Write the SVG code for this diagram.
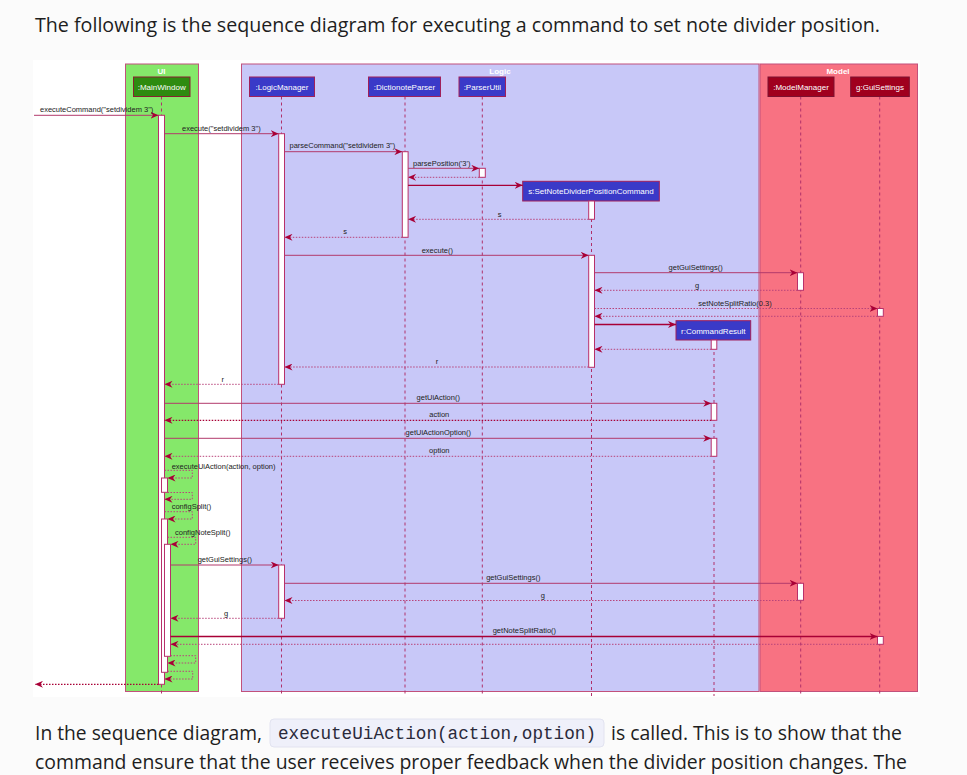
<svg xmlns="http://www.w3.org/2000/svg" width="967" height="775" viewBox="0 0 967 775">
<defs>
<style>
.page{fill:#fbfbfb}
.panel{fill:#ffffff}
.para{font-family:"Open Sans","Noto Sans","Liberation Sans",sans-serif;font-size:20px;fill:#1e1e1e}
.code{font-family:"Liberation Mono","DejaVu Sans Mono",monospace;font-size:17.5px;fill:#2a2a3a}
.grp{stroke:#c2517c;stroke-width:1}
.gt{font-family:"Liberation Sans",Arial,sans-serif;font-size:8px;font-weight:bold;fill:#ffffff;text-anchor:middle}
.pt{font-family:"Liberation Sans",Arial,sans-serif;font-size:8px;fill:#ffffff;text-anchor:middle}
.pui{fill:#2e8b10;stroke:#8a2030;stroke-width:1}
.plo{fill:#3a3ac8;stroke:#a0205a;stroke-width:1}
.pmo{fill:#a0001e;stroke:#7c1030;stroke-width:1}
.life{stroke:#b0306a;stroke-width:1;stroke-dasharray:3,3;fill:none}
.act{fill:#ffffff;stroke:#b8306a;stroke-width:1}
.msg{stroke:#b23a6c;stroke-width:1;fill:none}
.strong{stroke:#a80036;stroke-width:1.3;fill:none}
.ret{stroke:#b8447a;stroke-width:1;stroke-dasharray:1.5,1.5;fill:none}
.rets{stroke:#a80036;stroke-width:1.2;stroke-dasharray:1.5,1.5;fill:none}
.ml{font-family:"Liberation Sans",Arial,sans-serif;font-size:7.5px;fill:#222222}
.mc{text-anchor:middle}
</style>
<marker id="ah" viewBox="0 0 8 7" markerWidth="8" markerHeight="7" refX="8" refY="3.5" orient="auto" markerUnits="userSpaceOnUse">
<path d="M0,0 L8,3.5 L0,7 L2.5,3.5 Z" fill="#a80036"/>
</marker>
</defs>

<rect class="page" x="0" y="0" width="967" height="775"/>
<text class="para" x="35" y="32" textLength="845" lengthAdjust="spacingAndGlyphs">The following is the sequence diagram for executing a command to set note divider position.</text>
<rect class="panel" x="33" y="60" width="887" height="637"/>

<!-- group boxes -->
<g id="group-ui">
<rect class="grp" x="125.5" y="64" width="73" height="627.5" fill="#85e86a"/>
<text class="gt" x="161.5" y="73.5" font-weight="normal">UI</text>
</g>
<g id="group-logic">
<rect class="grp" x="241.5" y="64" width="517.5" height="627.5" fill="#c8c8f8"/>
<text class="gt" x="500" y="73.5">Logic</text>
</g>
<g id="group-model">
<rect class="grp" x="760" y="64" width="157.5" height="627.5" fill="#f87282"/>
<text class="gt" x="838" y="73.5">Model</text>
</g>

<!-- participants with lifelines -->
<g id="mainwindow">
<line class="life" x1="161.5" y1="96.5" x2="161.5" y2="696"/>
<rect class="pui" x="133.5" y="77" width="56.5" height="19.5"/>
<text class="pt" x="161.7" y="89.8">:MainWindow</text>
</g>
<g id="logicmanager">
<line class="life" x1="281.5" y1="96.5" x2="281.5" y2="696" stroke="#a80036"/>
<rect class="plo" x="249.5" y="77" width="65" height="19.5"/>
<text class="pt" x="282" y="89.8">:LogicManager</text>
</g>
<g id="dictionoteparser">
<line class="life" x1="405" y1="96.5" x2="405" y2="696" stroke="#a80036"/>
<rect class="plo" x="368.5" y="77" width="72" height="19.5"/>
<text class="pt" x="404.5" y="89.8">:DictionoteParser</text>
</g>
<g id="parserutil">
<line class="life" x1="482.3" y1="96.5" x2="482.3" y2="696"/>
<rect class="plo" x="459" y="77" width="46.5" height="19.5"/>
<text class="pt" x="482.3" y="89.8">:ParserUtil</text>
</g>
<g id="setnotedividerpositioncommand">
<line class="life" x1="591.5" y1="201" x2="591.5" y2="696"/>
<rect class="plo" x="522.7" y="181.3" width="136.6" height="19.7"/>
<text class="pt" x="591" y="194.3">s:SetNoteDividerPositionCommand</text>
</g>
<g id="commandresult">
<line class="life" x1="714" y1="340" x2="714" y2="696"/>
<rect class="plo" x="676" y="320.7" width="74.7" height="19.3"/>
<text class="pt" x="713.3" y="333.5">r:CommandResult</text>
</g>
<g id="modelmanager">
<line class="life" x1="800.7" y1="96.5" x2="800.7" y2="696"/>
<rect class="pmo" x="768" y="77" width="66" height="19.5"/>
<text class="pt" x="801" y="89.8">:ModelManager</text>
</g>
<g id="guisettings">
<line class="life" x1="879.7" y1="96.5" x2="879.7" y2="696"/>
<rect class="pmo" x="850.7" y="77" width="58.6" height="19.5"/>
<text class="pt" x="880" y="89.8">g:GuiSettings</text>
</g>

<!-- activations -->
<g id="activations">
<rect class="act" x="158.5" y="115.3" width="6" height="569"/>
<rect class="act" x="161.5" y="478" width="6" height="14.3"/>
<rect class="act" x="161.5" y="519" width="6" height="153.3"/>
<rect class="act" x="164.5" y="544.3" width="6" height="112"/>
<rect class="act" x="278.7" y="133.7" width="5.8" height="250.6"/>
<rect class="act" x="278.7" y="565" width="5.8" height="53.3"/>
<rect class="act" x="402.3" y="151.7" width="5.8" height="85.6"/>
<rect class="act" x="479.3" y="168.3" width="6" height="9"/>
<rect class="act" x="588.7" y="201" width="5.8" height="18.3"/>
<rect class="act" x="588.7" y="255.3" width="5.8" height="112"/>
<rect class="act" x="711.2" y="340" width="5.6" height="9.3"/>
<rect class="act" x="711.2" y="403.3" width="5.6" height="17"/>
<rect class="act" x="711.2" y="438.3" width="5.6" height="18"/>
<rect class="act" x="797.5" y="272.7" width="6" height="17.6"/>
<rect class="act" x="797.5" y="583.3" width="6" height="17"/>
<rect class="act" x="877.5" y="308.5" width="5.8" height="7.8"/>
<rect class="act" x="877.5" y="636.5" width="5.8" height="7.8"/>
</g>

<!-- connectors -->
<g id="connectors">
<line class="msg" x1="34" y1="115.3" x2="158.5" y2="115.3" marker-end="url(#ah)"/>
<text class="ml" x="40" y="112">executeCommand("setdividem 3")</text>

<line class="msg" x1="164.5" y1="133.7" x2="278.7" y2="133.7" marker-end="url(#ah)"/>
<text class="ml" x="182" y="130.5">execute("setdividem 3")</text>

<line class="msg" x1="284.5" y1="151.7" x2="402.3" y2="151.7" marker-end="url(#ah)"/>
<text class="ml" x="289.5" y="148">parseCommand("setdividem 3")</text>

<line class="msg" x1="408.1" y1="168.3" x2="479.3" y2="168.3" marker-end="url(#ah)"/>
<text class="ml" x="413" y="165.5">parsePosition('3')</text>

<line class="ret" x1="479.3" y1="177.3" x2="408.1" y2="177.3" marker-end="url(#ah)"/>

<line class="strong" x1="408.1" y1="185.3" x2="522.7" y2="185.3" marker-end="url(#ah)"/>

<line class="ret" x1="588.7" y1="219.3" x2="408.1" y2="219.3" marker-end="url(#ah)"/>
<text class="ml mc" x="499.7" y="216.5">s</text>

<line class="ret" x1="402.3" y1="237.3" x2="284.5" y2="237.3" marker-end="url(#ah)"/>
<text class="ml mc" x="345" y="234">s</text>

<line class="msg" x1="284.5" y1="255.3" x2="588.7" y2="255.3" marker-end="url(#ah)"/>
<text class="ml" x="421.7" y="252.5">execute()</text>

<line class="msg" x1="594.5" y1="272.7" x2="797.5" y2="272.7" marker-end="url(#ah)"/>
<text class="ml mc" x="695.7" y="270">getGuiSettings()</text>

<line class="ret" x1="797.5" y1="290.3" x2="594.5" y2="290.3" marker-end="url(#ah)"/>
<text class="ml mc" x="697" y="288">g</text>

<line class="ret" x1="594.5" y1="308.5" x2="877.5" y2="308.5" marker-end="url(#ah)"/>
<text class="ml mc" x="735" y="305.5">setNoteSplitRatio(0.3)</text>

<line class="ret" x1="877.5" y1="316.3" x2="594.5" y2="316.3" marker-end="url(#ah)"/>

<line class="strong" x1="594.5" y1="324.5" x2="676" y2="324.5" marker-end="url(#ah)"/>

<line class="ret" x1="711.2" y1="349.3" x2="594.5" y2="349.3" marker-end="url(#ah)"/>

<line class="ret" x1="588.7" y1="367" x2="284.5" y2="367" marker-end="url(#ah)"/>
<text class="ml mc" x="437" y="364">r</text>

<line class="ret" x1="278.7" y1="384.3" x2="164.5" y2="384.3" marker-end="url(#ah)"/>
<text class="ml mc" x="222.7" y="381.5">r</text>

<line class="msg" x1="164.5" y1="403.3" x2="711.2" y2="403.3" marker-end="url(#ah)"/>
<text class="ml mc" x="438.3" y="399.5">getUiAction()</text>

<line class="rets" x1="711.2" y1="420.3" x2="164.5" y2="420.3" marker-end="url(#ah)"/>
<text class="ml mc" x="439.3" y="417">action</text>

<line class="msg" x1="164.5" y1="438.3" x2="711.2" y2="438.3" marker-end="url(#ah)"/>
<text class="ml mc" x="438.3" y="435">getUiActionOption()</text>

<line class="ret" x1="711.2" y1="456.3" x2="164.5" y2="456.3" marker-end="url(#ah)"/>
<text class="ml mc" x="439.3" y="453">option</text>

<polyline class="ret" points="164.5,470.3 192.3,470.3 192.3,478 167.5,478" marker-end="url(#ah)"/>
<text class="ml" x="171.7" y="468.5">executeUiAction(action, option)</text>

<polyline class="ret" points="167.5,492.5 192.3,492.5 192.3,499.3 164.5,499.3" marker-end="url(#ah)"/>

<polyline class="ret" points="164.5,511.7 192.3,511.7 192.3,519 167.5,519" marker-end="url(#ah)"/>
<text class="ml" x="171.7" y="509">configSplit()</text>

<polyline class="ret" points="167.5,537.3 195.7,537.3 195.7,544.3 170.5,544.3" marker-end="url(#ah)"/>
<text class="ml" x="175" y="534.5">configNoteSplit()</text>

<line class="msg" x1="170.5" y1="565" x2="278.7" y2="565" marker-end="url(#ah)"/>
<text class="ml" x="197.7" y="562">getGuiSettings()</text>

<line class="msg" x1="284.5" y1="583.3" x2="797.5" y2="583.3" marker-end="url(#ah)"/>
<text class="ml mc" x="513.3" y="579.5">getGuiSettings()</text>

<line class="ret" x1="797.5" y1="600.5" x2="284.5" y2="600.5" marker-end="url(#ah)"/>
<text class="ml mc" x="542.8" y="597.5">g</text>

<line class="ret" x1="278.7" y1="618.3" x2="170.5" y2="618.3" marker-end="url(#ah)"/>
<text class="ml mc" x="226" y="615.5">g</text>

<line class="strong" x1="170.5" y1="636.5" x2="877.5" y2="636.5" marker-end="url(#ah)"/>
<text class="ml mc" x="524.4" y="633">getNoteSplitRatio()</text>

<line class="ret" x1="877.5" y1="644.3" x2="170.5" y2="644.3" marker-end="url(#ah)"/>

<polyline class="ret" points="170.5,655.7 195.7,655.7 195.7,663 167.5,663" marker-end="url(#ah)"/>

<polyline class="ret" points="167.5,671.3 192.7,671.3 192.7,679 164.5,679" marker-end="url(#ah)"/>

<line class="rets" x1="158.5" y1="684.3" x2="35" y2="684.3" marker-end="url(#ah)"/>
</g>

<!-- paragraph below -->
<text class="para" x="35" y="740" textLength="227" lengthAdjust="spacingAndGlyphs">In the sequence diagram,</text>
<rect x="270" y="719" width="334" height="28" rx="4" fill="#eff0fa" stroke="#e2e3f0" stroke-width="1"/>
<text class="code" x="278" y="739" textLength="318" lengthAdjust="spacingAndGlyphs">executeUiAction(action,option)</text>
<text class="para" x="611" y="740" textLength="291" lengthAdjust="spacingAndGlyphs">is called. This is to show that the</text>
<text class="para" x="35" y="769" textLength="872" lengthAdjust="spacingAndGlyphs">command ensure that the user receives proper feedback when the divider position changes. The</text>
</svg>
